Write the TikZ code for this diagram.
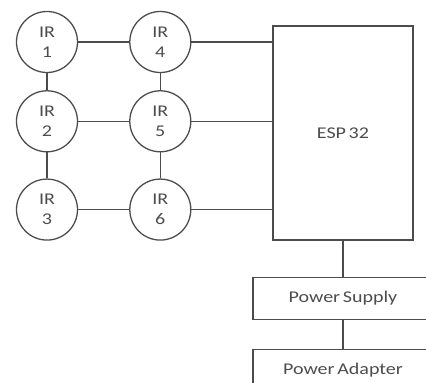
\documentclass[tikz,border=0pt]{standalone}
\usepackage{fontspec}
\setmainfont{Carlito}[FakeStretch=1.22, WordSpace=0.6]
\usetikzlibrary{positioning}

\begin{document}
\begin{tikzpicture}[
    node distance=0.5cm,
    sensor/.style={draw=black!70, circle, line width=1.1pt, minimum size=1.83cm, inner sep=0pt, align=center, text=black!70, font=\fontsize{14}{17}\selectfont},
    block/.style={draw=black!70, line width=1.1pt, align=center, text=black!70, font=\fontsize{14}{17}\selectfont},
    wire/.style={draw=black!70, line width=1.1pt}
]
\useasboundingbox (0,0) rectangle (12.78,-11.49);
\clip (0,0) rectangle (12.78,-11.49);
\node[sensor] (ir1) at (1.41,-1.26) {IR\\1};
\node[sensor, below=0.51cm of ir1] (ir2) {IR\\2};
\node[sensor, below=0.78cm of ir2] (ir3) {IR\\3};
\node[sensor, right=1.53cm of ir1] (ir4) {IR\\4};
\node[sensor, right=1.53cm of ir2] (ir5) {IR\\5};
\node[sensor, right=1.53cm of ir3] (ir6) {IR\\6};
\node[block, minimum width=4.2cm, minimum height=6.42cm] (esp) at (10.29,-3.99) {ESP 32};
\node[block, minimum width=5.4cm, minimum height=1.26cm, below=1.08cm of esp] (supply) {Power Supply};
\node[block, minimum width=5.4cm, minimum height=1.26cm, below=0.87cm of supply] (adapter) {Power Adapter};

\draw[wire] (ir1) -- (ir2);
\draw[wire] (ir2) -- (ir3);
\draw[wire] (ir4) -- (ir5);
\draw[wire] (ir5) -- (ir6);
\draw[wire] (ir1) -- (ir4);
\draw[wire] (ir2) -- (ir5);
\draw[wire] (ir3) -- (ir6);
\draw[wire] (ir4) -- (ir4 -| esp.west);
\draw[wire] (ir5) -- (ir5 -| esp.west);
\draw[wire] (ir6) -- (ir6 -| esp.west);
\draw[wire] (esp) -- (supply);
\draw[wire] (supply) -- (adapter);
\end{tikzpicture}
\end{document}
